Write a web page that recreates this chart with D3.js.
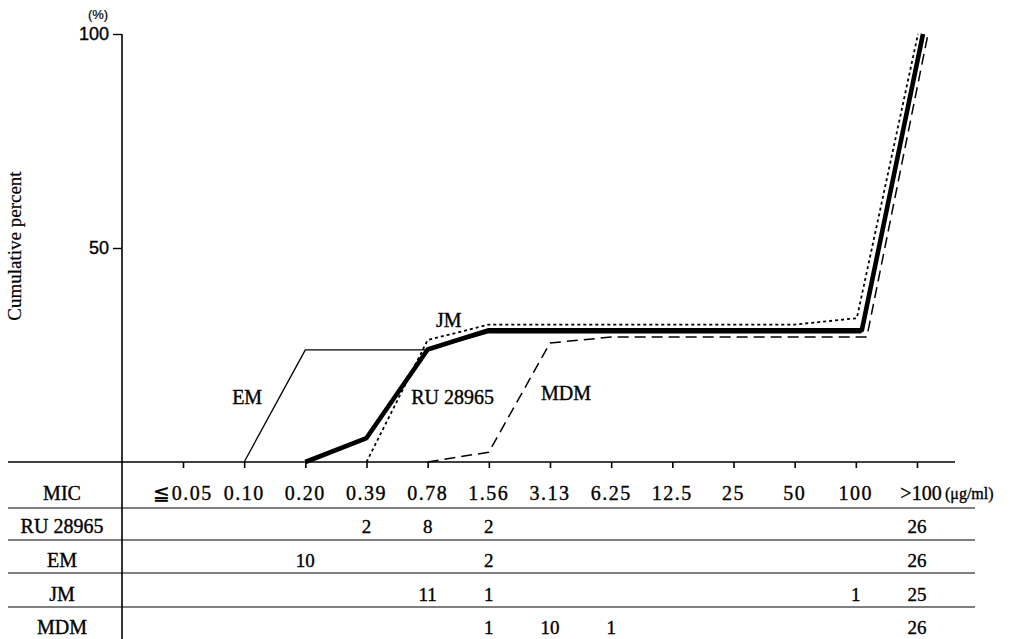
<!DOCTYPE html>
<html>
<head>
<meta charset="utf-8">
<script src="https://cdn.jsdelivr.net/npm/d3@7"></script>
<style>
  body { margin: 0; background: #fff; }
  svg { display: block; }
  text { fill: #000; stroke: #000; stroke-width: 0.35; }
</style>
</head>
<body>
<svg width="1018" height="639"></svg>
<script>
// MIC categories (µg/ml)
const categories = ["≦0.05", "0.10", "0.20", "0.39", "0.78", "1.56", "3.13", "6.25", "12.5", "25", "50", "100", ">100"];
const drugs = ["RU 28965", "EM", "JM", "MDM"];

// number of strains per MIC (table rows), null = empty cell
const ruCounts  = [null, null, null, 2, 8, 2, null, null, null, null, null, null, 26];
const emCounts  = [null, null, 10, null, null, 2, null, null, null, null, null, null, 26];
const jmCounts  = [null, null, null, null, 11, 1, null, null, null, null, null, 1, 25];
const mdmCounts = [null, null, null, null, null, 1, 10, 1, null, null, null, null, 26];

// cumulative percent as plotted
const ruPct  = [null, null, 0, 5.6, 26.3, 30.8, 30.8, 30.8, 30.8, 30.8, 30.8, 30.8, 100];
const emPct  = [null, 0, 26.2, 26.2, 26.2, 30.2, 30.2, 30.2, 30.2, 30.2, 30.2, 30.2, 100];
const jmPct  = [null, null, null, 0, 28.5, 32.1, 32.1, 32.1, 32.1, 32.1, 32.1, 33.6, 100];
const mdmPct = [null, null, null, null, 0, 2.3, 27.8, 29.2, 29.2, 29.2, 29.2, 29.2, 100];

const yTicks = [50, 100];

const svg = d3.select("svg");
const serif = "'Liberation Serif', 'Times New Roman', serif";
const sans = "'Liberation Sans', Arial, sans-serif";

const x = d3.scalePoint().domain(categories).range([183, 917]);
const y = d3.scaleLinear().domain([0, 100]).range([462, 34]);

// y axis
const axisX = 122;
svg.append("line")
    .attr("x1", axisX).attr("x2", axisX)
    .attr("y1", y(100)).attr("y2", 639)
    .attr("stroke", "#000").attr("stroke-width", 1.6);

const yAxis = svg.append("g")
    .attr("transform", `translate(${axisX},0)`)
    .call(d3.axisLeft(y).tickValues(yTicks).tickSize(9).tickPadding(4));
yAxis.select(".domain").remove();
yAxis.selectAll("line").attr("stroke", "#000").attr("stroke-width", 1.4);
yAxis.selectAll("text")
    .attr("font-family", sans).attr("font-size", 18).attr("fill", "#000");

svg.append("text")
    .attr("x", 98).attr("y", 19)
    .attr("text-anchor", "middle")
    .attr("font-family", sans).attr("font-size", 13)
    .style("stroke-width", 0.2)
    .text("(%)");

svg.append("text")
    .attr("transform", `translate(21,246) rotate(-90)`)
    .attr("text-anchor", "middle")
    .attr("font-family", serif).attr("font-size", 19)
    .style("stroke-width", 0.2)
    .text("Cumulative percent");

// baseline with x ticks
svg.append("line")
    .attr("x1", 8).attr("x2", 955)
    .attr("y1", y(0)).attr("y2", y(0))
    .attr("stroke", "#000").attr("stroke-width", 1.4);

const xAxis = svg.append("g")
    .attr("transform", `translate(0,${y(0)})`)
    .call(d3.axisBottom(x).tickSize(6).tickFormat(""));
xAxis.select(".domain").remove();
xAxis.selectAll("line").attr("stroke", "#000").attr("stroke-width", 1.6);

// curves
const series = [
    {name: "EM", pct: emPct, width: 1.3, dash: null, shift: 5},
    {name: "MDM", pct: mdmPct, width: 1.5, dash: "11,6", shift: 11},
    {name: "JM", pct: jmPct, width: 1.8, dash: "3,3", shift: 1},
    {name: "RU 28965", pct: ruPct, width: 4.6, dash: null, shift: 6}
];

const line = d3.line()
    .defined(d => d.v != null)
    .x(d => x(d.c) + d.dx)
    .y(d => y(d.v));

svg.append("g")
    .attr("fill", "none")
    .attr("stroke", "#000")
    .attr("stroke-linejoin", "round")
    .selectAll("path")
    .data(series)
    .join("path")
    .attr("stroke-width", s => s.width)
    .attr("stroke-dasharray", s => s.dash)
    .attr("d", s => line(s.pct.map((v, i) => ({
        c: categories[i], v: v, dx: i >= categories.length - 2 ? s.shift : 0
    }))));

// curve labels
const curveLabels = [
    {text: "EM", c: "0.10", v: 15.2, dx: 3},
    {text: "RU 28965", c: "0.78", v: 15.2, dx: 25},
    {text: "JM", c: "0.78", v: 33.2, dx: 21},
    {text: "MDM", c: "3.13", v: 16.2, dx: 16}
];
svg.append("g")
    .selectAll("text")
    .data(curveLabels)
    .join("text")
    .attr("x", d => x(d.c) + d.dx)
    .attr("y", d => y(d.v))
    .attr("text-anchor", "middle")
    .attr("dominant-baseline", "central")
    .attr("font-family", serif)
    .attr("font-size", 20)
    .text(d => d.text);

// table
const rowLines = [508, 540, 573, 607];
svg.append("g")
    .selectAll("line")
    .data(rowLines)
    .join("line")
    .attr("x1", 8).attr("x2", 975)
    .attr("y1", d => d).attr("y2", d => d)
    .attr("stroke", "#000").attr("stroke-width", 1.2);

const headerY = 493;
const rowY = [526, 560, 594, 627];
const labelX = 62;

svg.append("text")
    .attr("x", labelX).attr("y", headerY)
    .attr("text-anchor", "middle").attr("dominant-baseline", "central")
    .attr("font-family", serif).attr("font-size", 20)
    .text("MIC");

svg.append("g")
    .selectAll("text")
    .data(categories)
    .join("text")
    .attr("x", d => x(d) + (d === ">100" ? 4 : 0))
    .attr("y", headerY)
    .attr("text-anchor", "middle").attr("dominant-baseline", "central")
    .attr("font-family", serif).attr("font-size", 20)
    .attr("letter-spacing", d => /^[0-9≦]/.test(d) ? 1.5 : 0)
    .text(d => d);

svg.append("text")
    .attr("x", 945).attr("y", headerY)
    .attr("dominant-baseline", "central")
    .attr("font-family", serif).attr("font-size", 16)
    .text("(μg/ml)");

const countRows = [ruCounts, emCounts, jmCounts, mdmCounts];
drugs.forEach((name, r) => {
    svg.append("text")
        .attr("x", labelX).attr("y", rowY[r])
        .attr("text-anchor", "middle").attr("dominant-baseline", "central")
        .attr("font-family", serif).attr("font-size", 20)
        .text(name);
    svg.append("g")
        .selectAll("text")
        .data(countRows[r].map((v, i) => ({c: categories[i], v: v})).filter(d => d.v != null))
        .join("text")
        .attr("x", d => x(d.c))
        .attr("y", rowY[r])
        .attr("text-anchor", "middle").attr("dominant-baseline", "central")
        .attr("font-family", serif).attr("font-size", 19)
        .text(d => d.v);
});
</script>
</body>
</html>
